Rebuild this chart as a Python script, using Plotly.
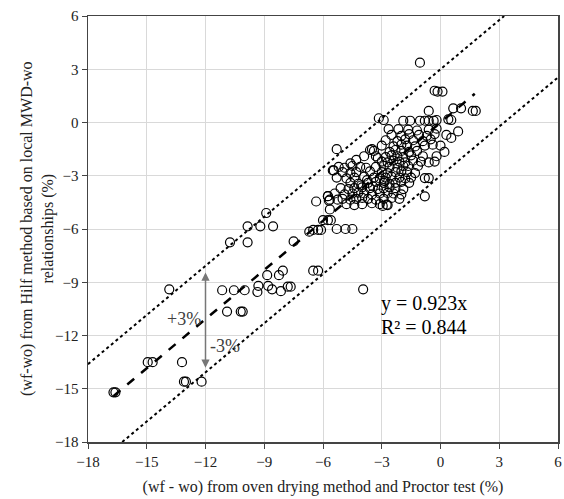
import numpy as np
import plotly.graph_objects as go

# Measured (x) vs Hilf (y) values, %
x_vals = [
    -16.7, -16.6, -14.95, -14.7, -13.2, -13.1, -13.0, -12.2, -13.85,
    -11.15, -10.55, -10.0, -10.9, -10.2, -10.1,
    -9.3, -9.35, -8.85, -8.8, -8.6, -8.25, -8.05, -8.15, -7.8, -7.65,
    -6.5, -6.25, -3.95, -10.75, -9.85, -9.85, -9.2, -8.55, -8.9, -7.5,
    -6.7, -6.5, -6.25, -6.1, -5.3, -4.85, -4.5, -6.0, -5.75, -5.6,
    -6.35, -5.75, -5.7, -5.25, -5.65, -5.3, -3.6, -3.5, -5.45, -5.5, -5.75, -5.65,
    # y=-2.5 row
    -5.2, -4.9, -4.5, -4.1, -3.8, -3.3, -2.9, -2.6, -2.2, -1.9, -1.65, -1.15,
    # y=-2.8
    -5.0, -4.6, -4.3, -3.6, -3.0, -2.7, -2.3, -2.0, -1.7, -1.3,
    # y=-3.1
    -5.3, -4.8, -4.4, -3.9, -3.4, -3.1, -2.8, -2.5, -2.1, -1.8, -1.5, -0.8, -0.6,
    # y=-3.4
    -4.6, -4.2, -3.7, -3.3, -2.9, -2.6, -2.3, -2.0, -1.6,
    # y=-3.7
    -5.1, -4.7, -4.4, -4.0, -3.6, -3.2, -2.9, -2.6, -2.3, -1.9,
    # y=-4.0
    -5.4, -4.9, -4.5, -4.2, -3.9, -3.5, -3.1, -2.7, -2.4, -2.0,
    # y=-4.3
    -5.0, -4.6, -4.3, -4.0, -3.7, -3.3, -2.9, -2.5, -2.1, -0.8,
    # y=-4.6
    -4.8, -4.4, -4.0, -3.5, -3.1, -2.7, -2.95, -2.75,
    # extra core
    -4.3, -3.9, -3.2, -4.6, -3.45, -3.75, -4.05, -2.85,
    # y=-2.2
    -3.0, -2.7, -2.4, -2.1, -1.8, -1.4, -1.0, -0.6, -0.3,
    # y=-1.9
    -3.3, -2.8, -2.5, -2.2, -1.9, -1.5, -0.9, -0.2,
    # y=-1.6
    -3.4, -2.6, -2.3, -2.0, -1.6, -1.2, 0.2,
    # y=-1.3
    -3.0, -2.4, -2.0, -1.7, -1.3, -0.8, -0.4, 0.0,
    # y=-1.0
    -2.8, -2.2, -1.8, -1.4, -0.9, -0.5, 0.55,
    # y=-0.7
    -2.5, -2.0, -1.6, -1.1, -0.7, -0.3, 0.3,
    # y=-0.4
    -2.65, -2.15, -1.65, -1.2, -0.6, -0.2, 0.9,
    # y=0.1
    -3.15, -2.9, -1.9, -1.55, -1.05, -0.8, -0.6, -0.35, -0.2, 0.4, 0.55,
    # top
    -0.6, 1.65, 1.8, 0.65, 1.05, -0.3, -0.15, 0.1, -1.05,
]
y_vals = [
    -15.2, -15.2, -13.5, -13.5, -13.5, -14.6, -14.6, -14.6, -9.4,
    -9.45, -9.45, -9.45, -10.65, -10.65, -10.65,
    -9.2, -9.55, -8.6, -9.2, -9.4, -8.6, -8.35, -9.5, -9.25, -9.25,
    -8.35, -8.35, -9.4, -6.75, -6.75, -5.85, -5.85, -5.85, -5.1, -6.7,
    -6.15, -6.05, -6.05, -6.05, -6.0, -6.0, -6.0, -5.5, -5.5, -5.5,
    -4.45, -4.15, -4.4, -4.35, -4.9, -1.5, -1.55, -1.5, -2.7, -2.7, -4.15, -4.35,
    -2.5, -2.55, -2.45, -2.5, -2.55, -2.5, -2.45, -2.5, -2.55, -2.45, -2.45, -2.45,
    -2.8, -2.85, -2.8, -2.75, -2.8, -2.85, -2.8, -2.75, -2.8, -2.85,
    -3.1, -3.15, -3.1, -3.05, -3.1, -3.15, -3.1, -3.05, -3.1, -3.15, -3.1, -3.13, -3.13,
    -3.4, -3.45, -3.4, -3.35, -3.4, -3.45, -3.4, -3.35, -3.4,
    -3.7, -3.75, -3.7, -3.65, -3.7, -3.75, -3.7, -3.65, -3.7, -3.75,
    -4.0, -4.05, -4.0, -3.95, -4.0, -4.05, -4.0, -3.97, -4.0, -4.05,
    -4.3, -4.35, -4.3, -4.25, -4.3, -4.35, -4.3, -4.25, -4.3, -4.16,
    -4.6, -4.65, -4.6, -4.55, -4.6, -4.65, -4.7, -4.63,
    -2.1, -1.9, -2.0, -2.3, -3.6, -3.25, -3.55, -3.3,
    -2.2, -2.25, -2.15, -2.2, -2.25, -2.15, -2.2, -2.25, -2.2,
    -1.9, -1.95, -1.85, -1.9, -1.95, -1.85, -1.9, -1.9,
    -1.6, -1.65, -1.55, -1.6, -1.65, -1.6, -1.66,
    -1.3, -1.35, -1.25, -1.3, -1.35, -1.3, -1.25, -1.3,
    -1.0, -1.05, -0.95, -1.0, -1.05, -0.95, -0.87,
    -0.7, -0.75, -0.65, -0.7, -0.75, -0.65, -0.7,
    -0.37, -0.37, -0.4, -0.45, -0.4, -0.35, -0.5,
    0.24, 0.14, 0.1, 0.1, 0.1, 0.1, 0.1, 0.1, 0.14, 0.18, 0.14,
    0.65, 0.65, 0.65, 0.8, 0.8, 1.79, 1.74, 1.74, 3.37,
]

slope = 0.923
band = 3.0
fit_x_range = [-16.7, 1.75]
axis_range = [-18, 6]
tick_vals = [-18, -15, -12, -9, -6, -3, 0, 3, 6]
eq_label = "y = 0.923x"
r2_label = "R² = 0.844"
x_title = "(wf - wo) from oven drying method and Proctor test (%)"
y_title = "(wf-wo) from Hilf method based on local MWD-wo<br>relationships (%)"

font_family = "Liberation Serif"
W, H = 564, 499
ML, MR, MT, MB = 88, 6, 16, 57

fig = go.Figure()

# ±3% band lines (clipped to axis range)
xx = np.linspace(axis_range[0], axis_range[1], 200)
for off in (band, -band):
    yy = slope * xx + off
    m = (yy >= axis_range[0]) & (yy <= axis_range[1])
    xs = np.concatenate([[(axis_range[0] - off) / slope] if off < 0 else [], xx[m],
                         [(axis_range[1] - off) / slope] if off > 0 else []])
    fig.add_trace(go.Scatter(x=xs, y=slope * xs + off, mode="lines",
                             line=dict(color="black", width=2, dash="dot"),
                             hoverinfo="skip", showlegend=False))

fig.add_trace(go.Scatter(x=x_vals, y=y_vals, mode="markers",
                         marker=dict(symbol="circle-open", size=9, color="black",
                                     line=dict(width=1.2, color="black")),
                         showlegend=False))

fx = np.array(fit_x_range)
fig.add_trace(go.Scatter(x=fx, y=slope * fx, mode="lines",
                         line=dict(color="black", width=2.5, dash="dash"),
                         showlegend=False))

# double-headed arrow
fig.add_annotation(x=-12, y=-8.45, ax=-12, ay=-13.9, xref="x", yref="y",
                   axref="x", ayref="y", text="", showarrow=True,
                   arrowhead=2, startarrowhead=2, arrowside="end+start",
                   arrowsize=1.1, startarrowsize=1.1, arrowwidth=1.5, arrowcolor="#777777")
fig.add_annotation(x=-13.1, y=-11.05, text="+3%", showarrow=False,
                   font=dict(family=font_family, size=18, color="#404040"))
fig.add_annotation(x=-11.0, y=-12.6, text="-3%", showarrow=False,
                   font=dict(family=font_family, size=18, color="#404040"))
fig.add_annotation(x=-3.15, y=-10.2, text=eq_label, showarrow=False, xanchor="left",
                   font=dict(family=font_family, size=20, color="black"))
fig.add_annotation(x=-3.15, y=-11.5, text=r2_label, showarrow=False, xanchor="left",
                   font=dict(family=font_family, size=20, color="black"))

# y-axis title as a rotated paper annotation
plot_w = W - ML - MR
fig.add_annotation(xref="paper", yref="paper", x=-(ML - 37) / plot_w, y=0.5,
                   text=y_title, showarrow=False, textangle=-90,
                   xanchor="center", yanchor="middle",
                   font=dict(family=font_family, size=16, color="#222222"))

axis_common = dict(range=axis_range, tickvals=tick_vals, showgrid=True,
                   gridcolor="#d9d9d9", gridwidth=1, zeroline=False,
                   showline=True, linecolor="#444444", linewidth=1.5, mirror=True,
                   ticks="outside", ticklen=5, tickcolor="#444444", automargin=False,
                   tickfont=dict(family=font_family, size=15, color="#222222"))

fig.update_xaxes(**axis_common,
                 title=dict(text=x_title,
                            font=dict(family=font_family, size=16, color="#222222"),
                            standoff=12))
fig.update_yaxes(**axis_common)

fig.update_layout(width=W, height=H, margin=dict(l=ML, r=MR, t=MT, b=MB, autoexpand=False),
                  plot_bgcolor="white", paper_bgcolor="white", showlegend=False,
                  hovermode=False)

fig.write_html("out.html", config={"displayModeBar": False, "staticPlot": True},
               post_script="document.body.style.margin='0';document.body.style.overflow='hidden';")
